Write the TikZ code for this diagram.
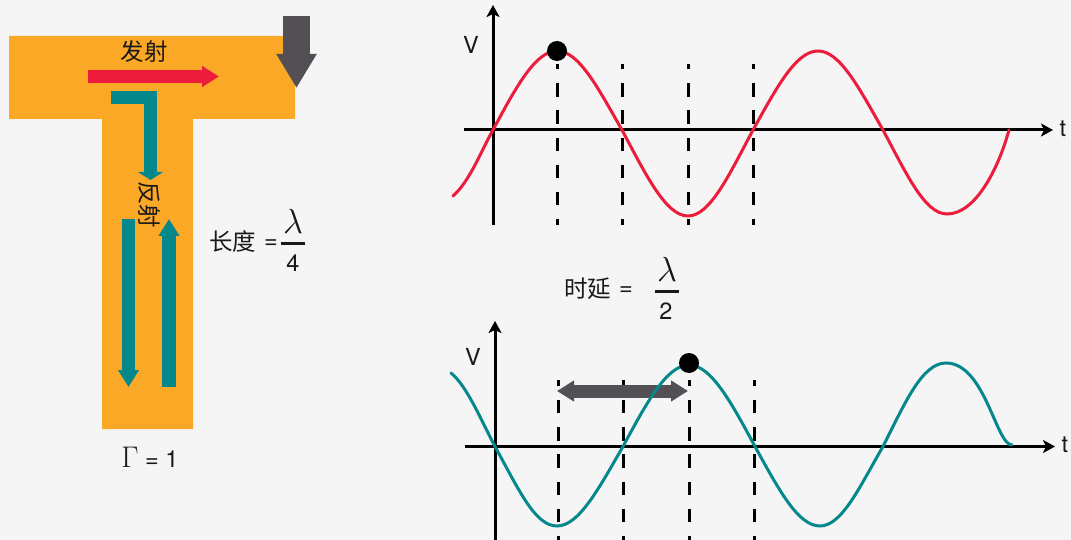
\documentclass[tikz,border=0pt]{standalone}
\usepackage{fontspec}
\setmainfont{TeX Gyre Heros}
\newfontfamily\cjk{Noto Sans CJK SC}
\usepackage{amsmath}
\usepackage{xcolor}
\usetikzlibrary{arrows.meta}
\definecolor{pagegray}{HTML}{F5F5F5}
\definecolor{stuborange}{HTML}{FBA826}
\definecolor{sigred}{HTML}{EC1C3A}
\definecolor{sigteal}{HTML}{05888C}
\definecolor{markgray}{HTML}{524F55}
\tikzset{
  label/.style={inner sep=0pt,text=black!90,font=\fontsize{23.5}{27}\selectfont},
  cjklabel/.style={inner sep=0pt,text=black!90,font=\cjk\fontsize{23.5}{27}\selectfont},
  lam/.style={inner sep=0pt,text=black!90,scale=1.4,font=\fontsize{24.88}{28}\selectfont},
  fracbar/.style={line width=2.6pt,black!90},
  axis/.style={line width=3pt,-{Stealth[length=12pt,width=13pt,inset=3pt]}},
  dashline/.style={line width=3pt,dash pattern=on 13.4pt off 13.8pt},
  wave/.style={line width=3pt,line cap=round},
  peakdot/.style={circle,fill=black,minimum size=20pt,inner sep=0pt},
  sigarrow/.style={line width=13.4pt,-{Triangle[length=17pt,width=20pt]}}
}
\begin{document}
\begin{tikzpicture}[x=1pt,y=-1pt]
  \fill[pagegray] (0,0) rectangle (1071,540);
  \useasboundingbox (0,0) rectangle (1071,540);

  % stub
  \fill[stuborange] (9,36) -- (295,36) -- (295,119) -- (193,119) -- (193,429) -- (102,429) -- (102,119) -- (9,119) -- cycle;

  \coordinate (feedTop) at (296.5,16);
  \coordinate (feedTip) at (296.5,88);
  \coordinate (txStart) at (88,76.5);
  \coordinate (txTip) at (219,76.5);
  \coordinate (rxStart) at (111,97.5);
  \coordinate (rxCorner) at (150.5,97.5);
  \coordinate (rxTip) at (150.5,180);
  \coordinate (downStart) at (128.5,219);
  \coordinate (downTip) at (128.5,387);
  \coordinate (upStart) at (169,387);
  \coordinate (upTip) at (169,219);

  \draw[markgray,line width=27pt,-{Triangle[length=34pt,width=38pt]}] (feedTop) -- (feedTip);
  \draw[sigred,sigarrow] (txStart) -- (txTip);
  \draw[sigteal,line width=13.4pt,-{Triangle[length=8pt,width=25pt]}] (rxStart) -- (rxCorner) -- (rxTip);
  \draw[sigteal,sigarrow] (downStart) -- (downTip);
  \draw[sigteal,sigarrow] (upStart) -- (upTip);

  \node[cjklabel] (txLabel) at (144,52) {发射};
  \node[cjklabel,rotate=-90] (rxLabel) at (149,205) {反射};
  \node[cjklabel,anchor=west] (lenLabel) at (209,242) {长度};
  \node[label] (lenEq) at (271,244) {=};
  \node[lam] (lenLam) at (293,221) {$\lambda$};
  \node[label] (lenFour) at (293,263) {4};
  \draw[fracbar] (281,243.5) -- (305,243.5);
  \node[label] (gammaLabel) at (150,457) {\scalebox{1.2}{$\Gamma$} = 1};

  % upper graph
  \coordinate (upOrigin) at (493,130);
  \coordinate (upBottom) at (493,225);
  \coordinate (upTop) at (493,5);
  \coordinate (upLeft) at (464,130);
  \coordinate (upRight) at (1053,130);
  \coordinate (upDashA) at (557,64);
  \coordinate (upDashB) at (622,64);
  \coordinate (upDashC) at (688,64);
  \coordinate (upDashD) at (753,64);

  \draw[dashline,dash phase=8pt] (upDashA) -- (upDashA |- upBottom);
  \draw[dashline,dash phase=8pt] (upDashB) -- (upDashB |- upBottom);
  \draw[dashline,dash phase=8pt] (upDashC) -- (upDashC |- upBottom);
  \draw[dashline,dash phase=8pt] (upDashD) -- (upDashD |- upBottom);
  \draw[axis] (upBottom) -- (upTop);
  \draw[axis] (upLeft) -- (upRight);
  \draw[wave,sigred] (453,196) .. controls (470,181) and (481,151) .. (493,130)
    .. controls (517,85) and (536,51) .. (557,51)
    .. controls (579,51) and (598,88) .. (622,130)
    .. controls (646,175) and (666,216) .. (688,216)
    .. controls (710,216) and (729,175) .. (753,130)
    .. controls (777,87) and (796,51) .. (818,51)
    .. controls (840,51) and (859,88) .. (883,130)
    .. controls (907,175) and (925,214) .. (947,214)
    .. controls (975,214) and (998,170) .. (1009,130);
  \node[peakdot] (upDot) at (557,51) {};
  \node[label] (upV) at (471,45) {V};
  \node[label] (upT) at (1063,129) {t};

  \node[cjklabel,anchor=west] (delayLabel) at (564,289) {时延};
  \node[label] (delayEq) at (626,291) {=};
  \node[lam] (delayLam) at (667,269) {$\lambda$};
  \node[label] (delayTwo) at (666,311) {2};
  \draw[fracbar] (655,291.5) -- (679,291.5);

  % lower graph
  \coordinate (lowOrigin) at (495,446.5);
  \coordinate (lowBottom) at (495,540);
  \coordinate (lowTop) at (495,321);
  \coordinate (lowLeft) at (465,446.5);
  \coordinate (lowRight) at (1055,446.5);
  \coordinate (lowDashA) at (558,380);
  \coordinate (lowDashB) at (623.5,380);
  \coordinate (lowDashC) at (689,380);
  \coordinate (lowDashD) at (754.5,380);
  \coordinate (spanLeft) at (557,391);
  \coordinate (spanRight) at (688,391);

  \draw[dashline,dash phase=7.2pt] (lowDashA) -- (lowDashA |- lowBottom);
  \draw[dashline,dash phase=7.2pt] (lowDashB) -- (lowDashB |- lowBottom);
  \draw[dashline,dash phase=7.2pt] (lowDashC) -- (lowDashC |- lowBottom);
  \draw[dashline,dash phase=7.2pt] (lowDashD) -- (lowDashD |- lowBottom);
  \draw[axis] (lowBottom) -- (lowTop);
  \draw[axis] (lowLeft) -- (lowRight);
  \draw[markgray,line width=13pt,{Triangle[length=17pt,width=20pt]}-{Triangle[length=17pt,width=20pt]}] (spanLeft) -- (spanRight);
  \draw[wave,sigteal] (451,373) .. controls (467,386) and (481,420) .. (495,446.5)
    .. controls (519,490) and (535,526) .. (557,526)
    .. controls (579,526) and (599,488) .. (623,446.5)
    .. controls (647,402) and (667,365) .. (689,365)
    .. controls (711,365) and (731,402) .. (755,446.5)
    .. controls (779,490) and (798,526) .. (820,526)
    .. controls (842,526) and (860,486) .. (883,446.5)
    .. controls (905,403) and (922,363) .. (946,363)
    .. controls (985,363) and (996,445) .. (1012,445);
  \node[peakdot] (lowDot) at (689,363) {};
  \node[label] (lowV) at (473,357) {V};
  \node[label] (lowT) at (1065,445) {t};
\end{tikzpicture}
\end{document}
